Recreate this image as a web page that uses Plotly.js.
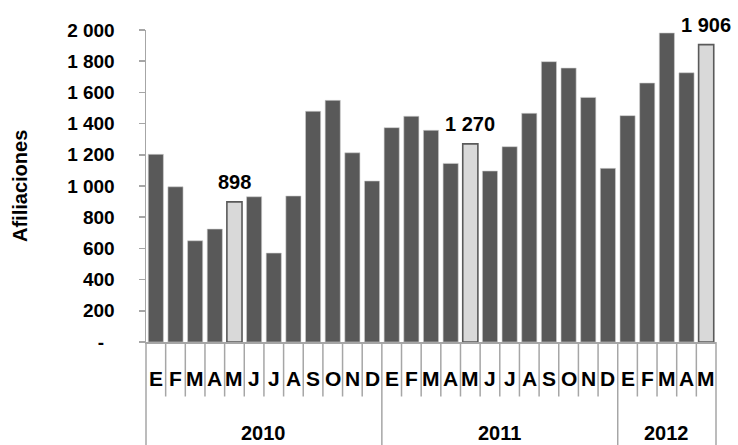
<!DOCTYPE html>
<html>
<head>
<meta charset="utf-8">
<script src="https://cdn.plot.ly/plotly-3.0.1.min.js"></script>
<style>html,body{margin:0;padding:0;background:#fff;}#chart{width:738px;height:445px;}</style>
</head>
<body>
<div id="chart"></div>
<script>
// ---- data ----
var months = ['E','F','M','A','M','J','J','A','S','O','N','D',
              'E','F','M','A','M','J','J','A','S','O','N','D',
              'E','F','M','A','M'];
var years = ['2010','2011','2012'];
var monthsPerYear = [12, 12, 5];
var values = [1203, 995, 649, 724, 898, 931, 570, 936, 1479, 1549, 1213, 1032,
              1374, 1447, 1357, 1145, 1270, 1096, 1252, 1466, 1797, 1756, 1568, 1113,
              1451, 1660, 1981, 1726, 1906];
var valueLabels = ['', '', '', '', '898', '', '', '', '', '', '', '',
                   '', '', '', '', '1 270', '', '', '', '', '', '', '',
                   '', '', '', '', '1 906'];
var yTickVals = [0, 200, 400, 600, 800, 1000, 1200, 1400, 1600, 1800, 2000];
var yTickText = ['-\u2007', '200', '400', '600', '800', '1 000', '1 200', '1 400', '1 600', '1 800', '2 000'];
var yTitle = 'Afiliaciones';

// ---- build ----
var n = months.length;
var idx = months.map(function(_, i){ return i; });
var dark = '#595959', light = '#d9d9d9', sepColor = '#a6a6a6';
var FONT = 'Liberation Sans, Arial, sans-serif';
var fills = valueLabels.map(function(l){ return l ? light : dark; });
var lines = valueLabels.map(function(l){ return l ? '#5a5a5a' : '#cfcfcf'; });
var lineW = valueLabels.map(function(l){ return l ? 1.6 : 0.6; });

var trace = {
  type: 'bar', x: idx, y: values,
  marker: {color: fills, line: {color: lines, width: lineW}},
  hoverinfo: 'none', cliponaxis: false
};

var annotations = [];
var shapes = [];
var monthDrop = -54.5 / 312, yearDrop = -103 / 312;

months.forEach(function(m, i){
  annotations.push({x: i, xref: 'x', y: 0, yref: 'paper', yanchor: 'middle', yshift: -36,
    text: '<b>' + m + '</b>', showarrow: false, font: {family: FONT, size: 21, color: '#000'}});
  if (valueLabels[i]) {
    annotations.push({x: i, xref: 'x', y: values[i], yref: 'y', yanchor: 'bottom', yshift: 7,
      text: '<b>' + valueLabels[i] + '</b>', showarrow: false, font: {family: FONT, size: 20, color: '#000'}});
  }
});

// separators
var boundaries = {};
var acc = 0;
boundaries[0] = true;
monthsPerYear.forEach(function(c){ acc += c; boundaries[acc] = true; });
for (var b = 0; b <= n; b++) {
  shapes.push({type: 'line', xref: 'paper', yref: 'paper', x0: b / n, x1: b / n,
    y0: 0, y1: boundaries[b] ? yearDrop : monthDrop, line: {color: sepColor, width: 1.5}});
}
// year labels
var start = 0;
years.forEach(function(yr, k){
  var c = monthsPerYear[k];
  annotations.push({x: start + (c - 1) / 2, xref: 'x', y: 0, yref: 'paper', yanchor: 'middle', yshift: -91,
    text: '<b>' + yr + '</b>', showarrow: false, font: {family: FONT, size: 20, color: '#000'}});
  start += c;
});
// y title
annotations.push({x: 0, xref: 'paper', y: 0.5, yref: 'paper', xshift: -126, textangle: -90,
  xanchor: 'center', yanchor: 'middle', text: '<b>' + yTitle + '</b>', showarrow: false,
  font: {family: FONT, size: 20, color: '#000'}});

var layout = {
  width: 738, height: 445,
  margin: {l: 146, r: 22, t: 30, b: 103, pad: 0},
  paper_bgcolor: '#fff', plot_bgcolor: '#fff',
  bargap: 0.23,
  showlegend: false,
  font: {family: FONT, color: '#000'},
  xaxis: {range: [-0.5, n - 0.5], showticklabels: false, ticks: '', showgrid: false, zeroline: false,
    showline: true, linecolor: sepColor, linewidth: 1.5, fixedrange: true},
  yaxis: {range: [0, 2000], tickvals: yTickVals, ticktext: yTickText, ticks: 'outside', ticklen: 6,
    tickcolor: sepColor, tickwidth: 1.5, showline: true, linecolor: sepColor, linewidth: 1.5,
    showgrid: false, zeroline: false, ticklabelstandoff: 20,
    tickfont: {family: FONT, size: 19, color: '#000', weight: 'bold'}, fixedrange: true},
  annotations: annotations,
  shapes: shapes
};

Plotly.newPlot('chart', [trace], layout, {displayModeBar: false, staticPlot: true});
</script>
</body>
</html>
